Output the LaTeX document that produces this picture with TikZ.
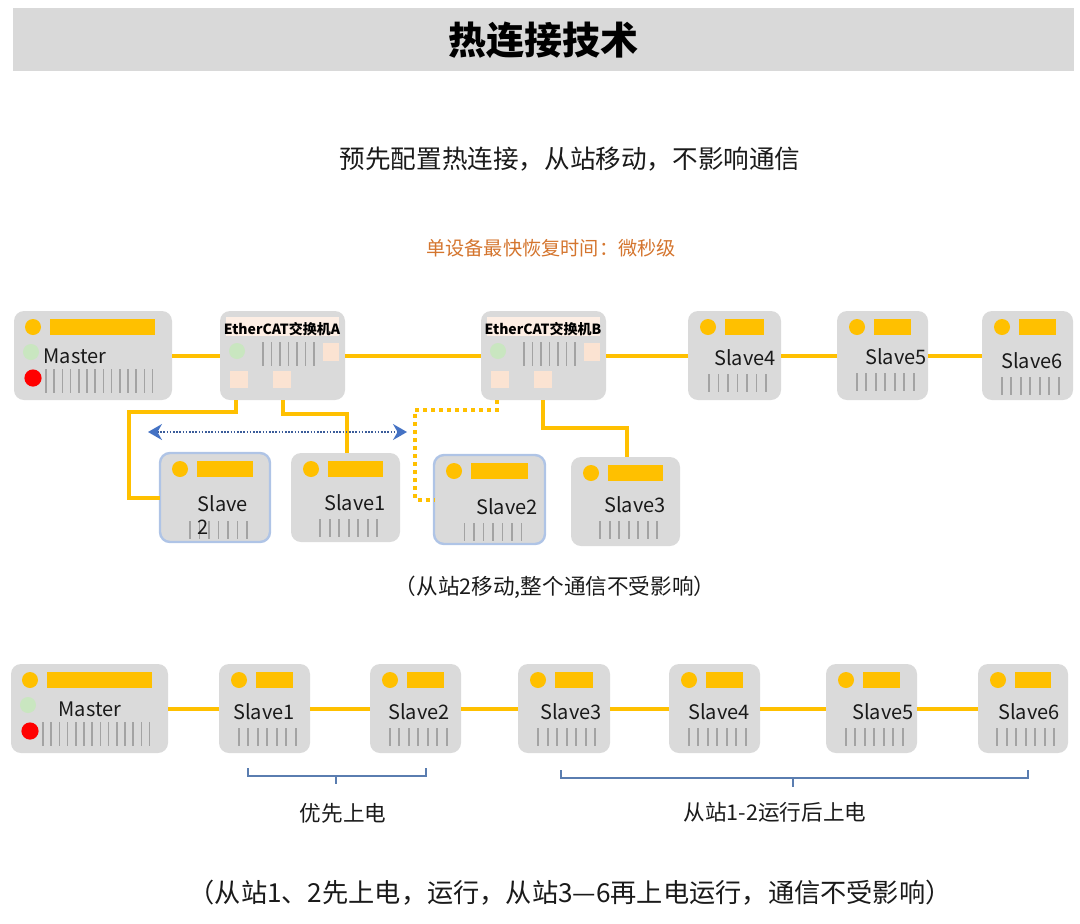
\documentclass[tikz,border=0pt]{standalone}
\usepackage{fontspec}
\setmainfont{Noto Sans CJK SC}
\usetikzlibrary{calc,arrows.meta}
\definecolor{boxgray}{HTML}{DADADA}
\definecolor{ylw}{HTML}{FFC000}
\definecolor{stripe}{HTML}{A3A3A3}
\definecolor{ledgreen}{HTML}{C9E6C0}
\definecolor{ledred}{HTML}{FF0000}
\definecolor{peach}{HTML}{FBE3D2}
\definecolor{bluebd}{HTML}{AFC4E6}
\definecolor{arrowblue}{HTML}{4472C4}
\definecolor{dotblue}{HTML}{3B5C9A}
\definecolor{bracecol}{HTML}{5A7DB0}
\definecolor{orangetxt}{HTML}{D4752E}
\definecolor{banner}{HTML}{D9D9D9}
\definecolor{txt}{HTML}{1A1A1A}
\tikzset{
  dev/.style={draw=none, fill=boxgray, rounded corners=5pt, inner sep=0pt, outer sep=0pt, anchor=north west},
  moved/.style={draw=bluebd, line width=1.2pt},
  link/.style={draw=ylw, line width=2pt},
  dlink/.style={draw=ylw, line width=2pt, dash pattern=on 2pt off 2pt},
  stripeln/.style={draw=stripe, line width=0.8pt},
  lbl/.style={font=\fontsize{10}{11.5}\selectfont, text=txt, inner sep=0pt},
  swlbl/.style={font=\bfseries\fontsize{7}{8}\selectfont, text=black, inner sep=0pt},
  brace/.style={draw=bracecol, line width=0.7pt},
  titletxt/.style={font=\bfseries\fontsize{19}{22}\selectfont, text=black, inner sep=0pt},
  subtxt/.style={font=\fontsize{12.8}{15}\selectfont, text=txt, inner sep=0pt},
  orgtxt/.style={font=\fontsize{9.6}{11}\selectfont, text=orangetxt, inner sep=0pt},
  captxt/.style={font=\fontsize{10.8}{12}\selectfont, text=txt, inner sep=0pt},
  bracetxt/.style={font=\fontsize{10.8}{12}\selectfont, text=txt, inner sep=0pt},
  bigcaptxt/.style={font=\fontsize{13.1}{15}\selectfont, text=txt, inner sep=0pt},
  movearrow/.style={draw=dotblue, line width=0.8pt, dash pattern=on 0.8pt off 0.8pt,
    {Stealth[length=7pt,width=8pt,color=arrowblue]}-{Stealth[length=7pt,width=8pt,color=arrowblue]}}
}
% slave device: [style] name, x, y, w, label, label x, label y (local)
\newcommand\slv[8][]{%
  \node[dev,#1,minimum width=#5*0.5pt,minimum height=44.5pt] (#2) at (#3,#4) {};
  \begin{scope}[shift={(#3,#4)}]
    \fill[ylw] (20,16) circle[radius=4pt];
    \fill[ylw] (37,8) rectangle (#5-17,24);
    \node[lbl] at (#7,#8) {#6};
    \foreach \i in {0,...,6} \draw[stripeln] ({0.53*#5-28.5+\i*9.5},#8+16) -- ++(0,18);
  \end{scope}}
% master: name, x, y, w, label x
\newcommand\mst[5]{%
  \node[dev,minimum width=#4*0.5pt,minimum height=44.5pt] (#1) at (#2,#3) {};
  \begin{scope}[shift={(#2,#3)}]
    \fill[ylw] (19,16) circle[radius=4pt];
    \fill[ylw] (36,8) rectangle (141,24);
    \fill[ledgreen] (17,41) circle[radius=4pt];
    \fill[ledred] (19,67) circle[radius=4.3pt];
    \node[lbl] at (#5,45) {Master};
    \foreach \i in {0,...,13} \draw[stripeln] (32+\i*8.2,58) -- ++(0,24);
  \end{scope}}
% switch: name, x, y, label
\newcommand\swt[4]{%
  \node[dev,minimum width=62.5pt,minimum height=44.5pt] (#1) at (#2,#3) {};
  \begin{scope}[shift={(#2,#3)}]
    \fill[peach!60] (6,6) rectangle (119,25);
    \node[swlbl] at (62,18) {#4};
    \fill[ledgreen] (17,40) circle[radius=4pt];
    \foreach \i in {0,...,6} \draw[stripeln] (43+\i*8.5,31) -- ++(0,24);
    \fill[peach] (103,32) rectangle (119,50);
    \fill[peach] (10,60) rectangle (28,77);
    \fill[peach] (53,60) rectangle (71,77);
  \end{scope}}
\begin{document}
\begin{tikzpicture}[x=0.5pt,y=-0.5pt]
\useasboundingbox (0,0) rectangle (1080,923);
\fill[banner] (13,8) rectangle (1074,71);
\node[titletxt] (title) at (543,40) {热连接技术};
\node[subtxt] (sub) at (570,159) {预先配置热连接，从站移动，不影响通信};
\node[orgtxt] (rec) at (551,248) {单设备最快恢复时间：微秒级};

% ---------- top network ----------
\mst{m1}{14}{311}{158}{61}
\swt{swA}{220}{311}{EtherCAT交换机A}
\swt{swB}{481}{311}{EtherCAT交换机B}
\slv{t4}{688}{311}{93}{Slave4}{57}{47}
\slv{t5}{837}{311}{91}{Slave5}{59}{46}
\slv{t6}{982}{311}{91}{Slave6}{50}{50}
\draw[link] (m1) -- (swA);
\draw[link] (swA) -- (swB);
\draw[link] (swB) -- (t4);
\draw[link] (t4) -- (t5);
\draw[link] (t5) -- (t6);

\slv[moved]{s2o}{160}{453}{110}{}{60}{52}
\node[lbl,align=left,anchor=north west] (s2olbl) at (197,495) {Slave\\2};
\slv{s1}{291}{453}{109}{Slave1}{64}{50}
\slv[moved]{s2n}{434}{455}{111}{Slave2}{73}{52}
\slv{s3}{571}{457}{109}{Slave3}{64}{48}

\draw[link] ($(swA.south west)+(16,0)$) -- ++(0,12) -| ($(s2o.west)+(-31,0)$) -- (s2o.west);
\draw[link] ($(swA.south west)+(63,0)$) -- ++(0,14) -| ($(s1.north west)+(56,0)$);
\draw[dlink] ($(swB.south west)+(16,0)$) -- ++(0,10) -| ($(s2n.west)+(-19,0)$) -- (s2n.west);
\draw[link] ($(swB.south west)+(62,0)$) -- ++(0,28) -| ($(s3.north west)+(56,0)$);

\coordinate (aL) at (148,432);
\coordinate (aR) at (407,432);
\draw[movearrow] (aL) -- (aR);

\node[captxt] (c1) at (555,587) {（从站2移动,整个通信不受影响）};

% ---------- bottom network ----------
\mst{m2}{11}{664}{157}{79}
\slv{b1}{219}{664}{91}{Slave1}{45}{48}
\slv{b2}{370}{664}{91}{Slave2}{49}{48}
\slv{b3}{518}{664}{92}{Slave3}{53}{48}
\slv{b4}{669}{664}{91}{Slave4}{50}{48}
\slv{b5}{826}{664}{91}{Slave5}{57}{48}
\slv{b6}{978}{664}{90}{Slave6}{51}{48}
\draw[link] (m2) -- (b1);
\draw[link] (b1) -- (b2);
\draw[link] (b2) -- (b3);
\draw[link] (b3) -- (b4);
\draw[link] (b4) -- (b5);
\draw[link] (b5) -- (b6);

\draw[brace] (248,768) -- (248,776) -- (426,776) -- (426,768);
\draw[brace] (336,776) -- (336,784);
\node[bracetxt] (g1) at (343,813) {优先上电};
\draw[brace] (561,770) -- (561,778) -- (1028,778) -- (1028,770);
\draw[brace] (793,778) -- (793,787);
\node[bracetxt] (g2) at (775,812) {从站1-2运行后上电};

\node[bigcaptxt] (c2) at (570,893) {（从站1、2先上电，运行，从站3—6再上电运行，通信不受影响）};
\end{tikzpicture}
\end{document}
